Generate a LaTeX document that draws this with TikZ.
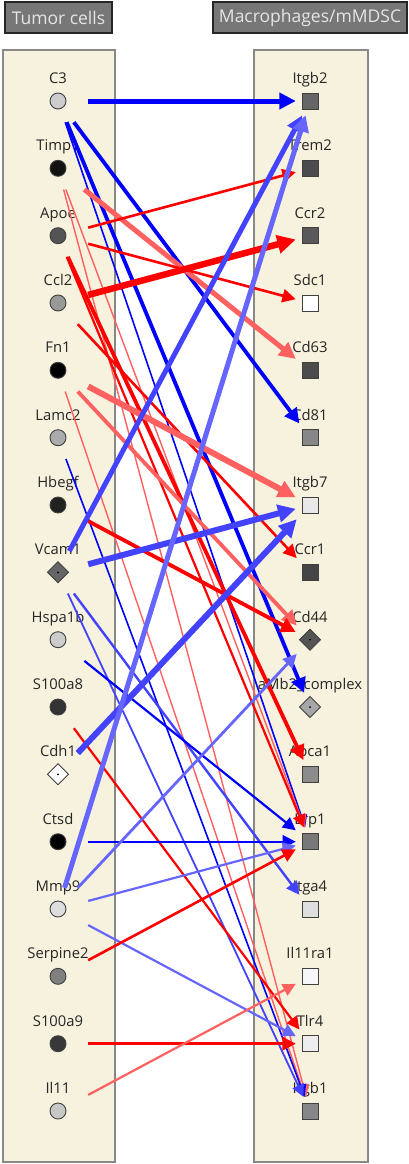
\documentclass[tikz,border=0pt]{standalone}
\usepackage{fontspec}
\setmainfont{Open Sans}
\usetikzlibrary{arrows.meta}

\definecolor{panel}{HTML}{F7F2DE}
\definecolor{frame}{HTML}{888888}
\definecolor{hdfill}{HTML}{777777}
\definecolor{dkblue}{HTML}{0000FF}
\definecolor{mdblue}{HTML}{4242FF}
\definecolor{ltblue}{HTML}{6666FF}
\definecolor{rdline}{HTML}{FF0000}
\definecolor{pkline}{HTML}{FF6060}

\tikzset{
  header/.style={draw=black!85, line width=2pt, fill=hdfill, text=white!90!black,
    minimum height=31pt, inner sep=0pt, font=\fontsize{17.5}{19}\selectfont},
  lab/.style={inner sep=0pt, text height=10pt, text depth=3pt, text=black!85,
    font=\fontsize{14.8}{16}\selectfont},
  tumor/.style={minimum width=60pt, minimum height=42pt, inner sep=0pt,
    label={[lab, label distance=-7pt]above:#1}},
  macro/.style={minimum width=28pt, minimum height=28pt, inner sep=0pt,
    label={[lab]above:#1}},
  symb/.style={draw=black!75, line width=0.9pt},
  ball/.style={path picture={\draw[symb, fill=#1] (path picture bounding box.center) circle (8pt);}},
  sq/.style={path picture={\draw[symb, fill=#1] ([shift={(-8pt,-8pt)}]path picture bounding box.center) rectangle ++(16pt,16pt);}},
  dia/.style={path picture={\draw[symb, fill=#1] ([shift={(0pt,10.5pt)}]path picture bounding box.center)
    -- ++(10.5pt,-10.5pt) -- ++(-10.5pt,-10.5pt) -- ++(-10.5pt,10.5pt) -- cycle;
    \fill (path picture bounding box.center) circle (1pt);}},
  link/.style={-{Triangle[length=10pt 1.3, width=10pt 1.2]}},
}

\begin{document}
\begin{tikzpicture}[x=1pt, y=-1pt]
    \useasboundingbox (0,0) rectangle (409,1164);

    % Panels
    \draw[draw=frame, fill=panel, line width=2pt] (3,50) rectangle (115,1162);
    \draw[draw=frame, fill=panel, line width=2pt] (254,50) rectangle (368,1162);

    % Headers
    \node[header, minimum width=107pt] (tumhead) at (58.5,17.5) {Tumor cells};
    \node[header, minimum width=194pt] (machead) at (310,17.5) {Macrophages/mMDSC};

    % Tumor cell ligands
    \node[tumor=C3, ball=black!20] (C3) at (58,101) {};
    \node[tumor=Timp1, ball=black!93] (Timp1) at (58,168.3) {};
    \node[tumor=Apoe, ball=black!67] (Apoe) at (58,235.7) {};
    \node[tumor=Ccl2, ball=black!40] (Ccl2) at (58,303) {};
    \node[tumor=Fn1, ball=black] (Fn1) at (58,370.3) {};
    \node[tumor=Lamc2, ball=black!33] (Lamc2) at (58,437.7) {};
    \node[tumor=Hbegf, ball=black!87] (Hbegf) at (58,505) {};
    \node[tumor=Vcam1, dia=black!60] (Vcam1) at (58,572.3) {};
    \node[tumor=Hspa1b, ball=black!20] (Hspa1b) at (58,639.7) {};
    \node[tumor=S100a8, ball=black!80] (S100a8) at (58,707) {};
    \node[tumor=Cdh1, dia=white] (Cdh1) at (58,774.3) {};
    \node[tumor=Ctsd, ball=black] (Ctsd) at (58,841.7) {};
    \node[tumor=Mmp9, ball=black!13] (Mmp9) at (58,909) {};
    \node[tumor=Serpine2, ball=black!50] (Serpine2) at (58,976.3) {};
    \node[tumor=S100a9, ball=black!78] (S100a9) at (58,1043.7) {};
    \node[tumor=Il11, ball=black!22] (Il11) at (58,1111) {};

    % Macrophage receptors
    \node[macro=Itgb2, sq=black!60] (Itgb2) at (310,101) {};
    \node[macro=Trem2, sq=black!70] (Trem2) at (310,168.3) {};
    \node[macro=Ccr2, sq=black!65] (Ccr2) at (310,235.7) {};
    \node[macro=Sdc1, sq=white] (Sdc1) at (310,303) {};
    \node[macro=Cd63, sq=black!70] (Cd63) at (310,370.3) {};
    \node[macro=Cd81, sq=black!47] (Cd81) at (310,437.7) {};
    \node[macro=Itgb7, sq=black!9] (Itgb7) at (310,505) {};
    \node[macro=Ccr1, sq=black!73] (Ccr1) at (310,572.3) {};
    \node[macro=Cd44, dia=black!67] (Cd44) at (310,639.7) {};
    \node[macro=aMb2\_complex, dia=black!35] (aMb2) at (310,707) {};
    \node[macro=Abca1, sq=black!45] (Abca1) at (310,774.3) {};
    \node[macro=Lrp1, sq=black!53] (Lrp1) at (310,841.7) {};
    \node[macro=Itga4, sq=black!13] (Itga4) at (310,909) {};
    \node[macro=Il11ra1, sq=black!3] (Il11ra1) at (310,976.3) {};
    \node[macro=Tlr4, sq=black!7] (Tlr4) at (310,1043.7) {};
    \node[macro=Itgb1, sq=black!47] (Itgb1) at (310,1111) {};

    % Interactions
    \draw[link, dkblue, line width=5pt] (C3) -- (Itgb2);
    \draw[link, dkblue, line width=3.8pt] (C3) -- (Cd81);
    \draw[link, dkblue, line width=3.8pt] (C3) -- (aMb2);
    \draw[link, dkblue, line width=1.6pt] (C3) -- (Lrp1);

    \draw[link, pkline, line width=5pt] (Timp1) -- (Cd63);
    \draw[link, pkline, line width=1.4pt] (Timp1) -- (Lrp1);
    \draw[link, pkline, line width=1.4pt] (Timp1) -- (Itgb1);

    \draw[link, rdline, line width=2.6pt] (Apoe) -- (Trem2);
    \draw[link, rdline, line width=2.6pt] (Apoe) -- (Sdc1);
    \draw[link, rdline, line width=3.8pt] (Apoe) -- (Abca1);
    \draw[link, rdline, line width=2.2pt] (Apoe) -- (Lrp1);

    \draw[link, rdline, line width=6.5pt] (Ccl2) -- (Ccr2);
    \draw[link, rdline, line width=2.6pt] (Ccl2) -- (Ccr1);

    \draw[link, pkline, line width=6pt] (Fn1) -- (Itgb7);
    \draw[link, pkline, line width=3.8pt] (Fn1) -- (Cd44);
    \draw[link, pkline, line width=1.4pt] (Fn1) -- (Itgb1);

    \draw[link, dkblue, line width=1.6pt] (Lamc2) -- (Itgb1);

    \draw[link, rdline, line width=3.8pt] (Hbegf) -- (Cd44);

    \draw[link, mdblue, line width=5pt] (Vcam1) -- (Itgb2);
    \draw[link, mdblue, line width=6pt] (Vcam1) -- (Itgb7);
    \draw[link, mdblue, line width=2.4pt] (Vcam1) -- (Itga4);
    \draw[link, mdblue, line width=1.8pt] (Vcam1) -- (Itgb1);

    \draw[link, dkblue, line width=2.2pt] (Hspa1b) -- (Lrp1);

    \draw[link, rdline, line width=2.2pt] (S100a8) -- (Tlr4);

    \draw[link, mdblue, line width=6pt] (Cdh1) -- (Itgb7);

    \draw[link, dkblue, line width=2.4pt] (Ctsd) -- (Lrp1);

    \draw[link, ltblue, line width=5pt] (Mmp9) -- (Itgb2);
    \draw[link, ltblue, line width=2.8pt] (Mmp9) -- (Cd44);
    \draw[link, ltblue, line width=2.2pt] (Mmp9) -- (Lrp1);
    \draw[link, ltblue, line width=2.2pt] (Mmp9) -- (Tlr4);

    \draw[link, rdline, line width=2.6pt] (Serpine2) -- (Lrp1);

    \draw[link, rdline, line width=2.6pt] (S100a9) -- (Tlr4);

    \draw[link, pkline, line width=2.2pt] (Il11) -- (Il11ra1);
\end{tikzpicture}
\end{document}
